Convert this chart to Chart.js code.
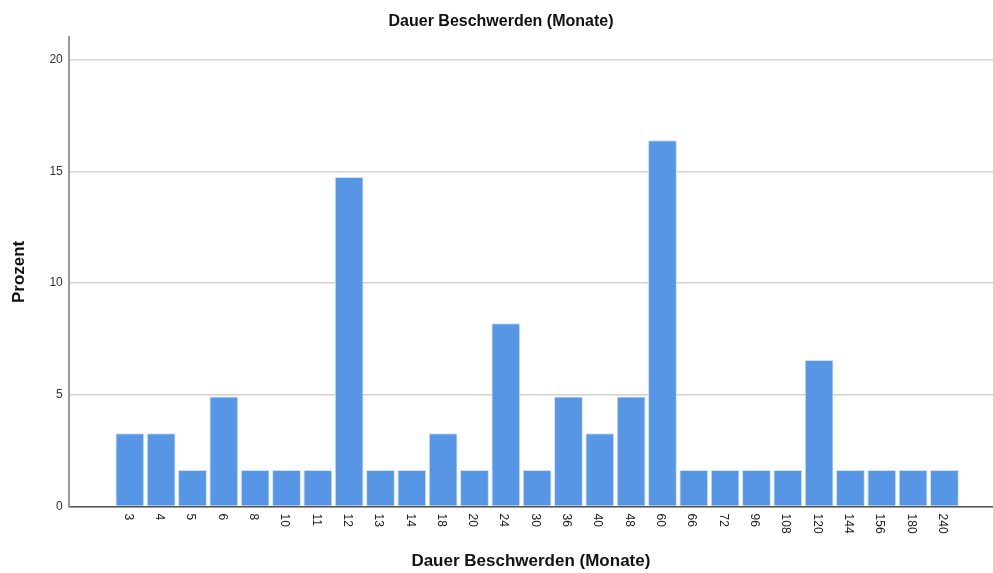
<!DOCTYPE html>
<html>
<head>
<meta charset="utf-8">
<script src="https://cdn.jsdelivr.net/npm/chart.js@4/dist/chart.umd.min.js"></script>
<style>
    html, body { margin: 0; padding: 0; background: #ffffff; }
    #wrap { width: 993px; height: 573px; }
</style>
</head>
<body>
<div id="wrap"><canvas id="durationChart"></canvas></div>
<script>
// Dauer der Beschwerden in Monaten (Kategorien der x-Achse)
const months = ['3', '4', '5', '6', '8', '10', '11', '12', '13', '14', '18', '20', '24', '30',
    '36', '40', '48', '60', '66', '72', '96', '108', '120', '144', '156', '180', '240'];

// Prozentwerte
const percent = [3.28, 3.28, 1.64, 4.92, 1.64, 1.64, 1.64, 14.75, 1.64, 1.64, 3.28, 1.64, 8.20, 1.64,
    4.92, 3.28, 4.92, 16.39, 1.64, 1.64, 1.64, 1.64, 6.56, 1.64, 1.64, 1.64, 1.64];

const yTicks = [0, 5, 10, 15, 20];

const fontFamily = '"Liberation Sans", Arial, sans-serif';

// SPSS dreht die x-Beschriftung im Uhrzeigersinn, Chart.js nur dagegen -> selbst zeichnen
const clockwiseLabels = {
    id: 'clockwiseLabels',
    afterDraw(chart) {
        const scale = chart.scales.x;
        const ctx = chart.ctx;
        ctx.save();
        ctx.font = '12px ' + fontFamily;
        ctx.fillStyle = '#222222';
        ctx.textAlign = 'left';
        ctx.textBaseline = 'middle';
        scale.ticks.forEach(t => {
            const x = scale.getPixelForValue(t.value);
            ctx.save();
            ctx.translate(x - 2, scale.top + 7);
            ctx.rotate(Math.PI / 2);
            ctx.fillText(months[t.value], 0, 0);
            ctx.restore();
        });
        ctx.restore();
    }
};

const ctx = document.getElementById('durationChart').getContext('2d');

new Chart(ctx, {
    type: 'bar',
    data: {
        datasets: [{
            label: 'Prozent',
            data: percent.map((v, i) => ({ x: i, y: v })),
            backgroundColor: '#5696e5',
            borderColor: '#cfe0f6',
            borderWidth: 1,
            borderSkipped: 'bottom',
            categoryPercentage: 1.0,
            barPercentage: 0.92
        }]
    },
    options: {
        responsive: true,
        maintainAspectRatio: false,
        animation: false,
        layout: { padding: { left: 9, right: 0, top: 0, bottom: 1 } },
        plugins: {
            legend: { display: false },
            tooltip: { enabled: false },
            title: {
                display: true,
                text: 'Dauer Beschwerden (Monate)',
                color: '#111111',
                font: { family: fontFamily, size: 16, weight: 'bold' },
                padding: { top: 12, bottom: 6 }
            }
        },
        scales: {
            x: {
                type: 'linear',
                min: -1.95,
                max: 27.55,
                offset: false,
                afterBuildTicks: scale => {
                    scale.ticks = months.map((m, i) => ({ value: i }));
                },
                grid: { display: false, drawTicks: false },
                border: { display: true, color: '#555555', width: 1.5 },
                ticks: {
                    color: 'transparent',
                    minRotation: 90,
                    maxRotation: 90,
                    autoSkip: false,
                    padding: 6,
                    font: { family: fontFamily, size: 12 },
                    callback: value => months[value]
                },
                title: {
                    display: true,
                    text: 'Dauer Beschwerden (Monate)',
                    color: '#111111',
                    font: { family: fontFamily, size: 17, weight: 'bold' },
                    padding: { top: 13, bottom: 0 }
                }
            },
            y: {
                min: 0,
                max: 21,
                afterBuildTicks: scale => {
                    scale.ticks = yTicks.map(v => ({ value: v }));
                },
                grid: {
                    color: '#d2d2d2',
                    lineWidth: 1.5,
                    drawTicks: false
                },
                border: { display: true, color: '#9a9a9a', width: 2 },
                ticks: {
                    color: '#333333',
                    padding: 6,
                    font: { family: fontFamily, size: 12 }
                },
                title: {
                    display: true,
                    text: 'Prozent',
                    color: '#111111',
                    font: { family: fontFamily, size: 17, weight: 'bold' },
                    padding: { top: 0, bottom: 14 }
                }
            }
        }
    },
    plugins: [clockwiseLabels]
});
</script>
</body>
</html>
